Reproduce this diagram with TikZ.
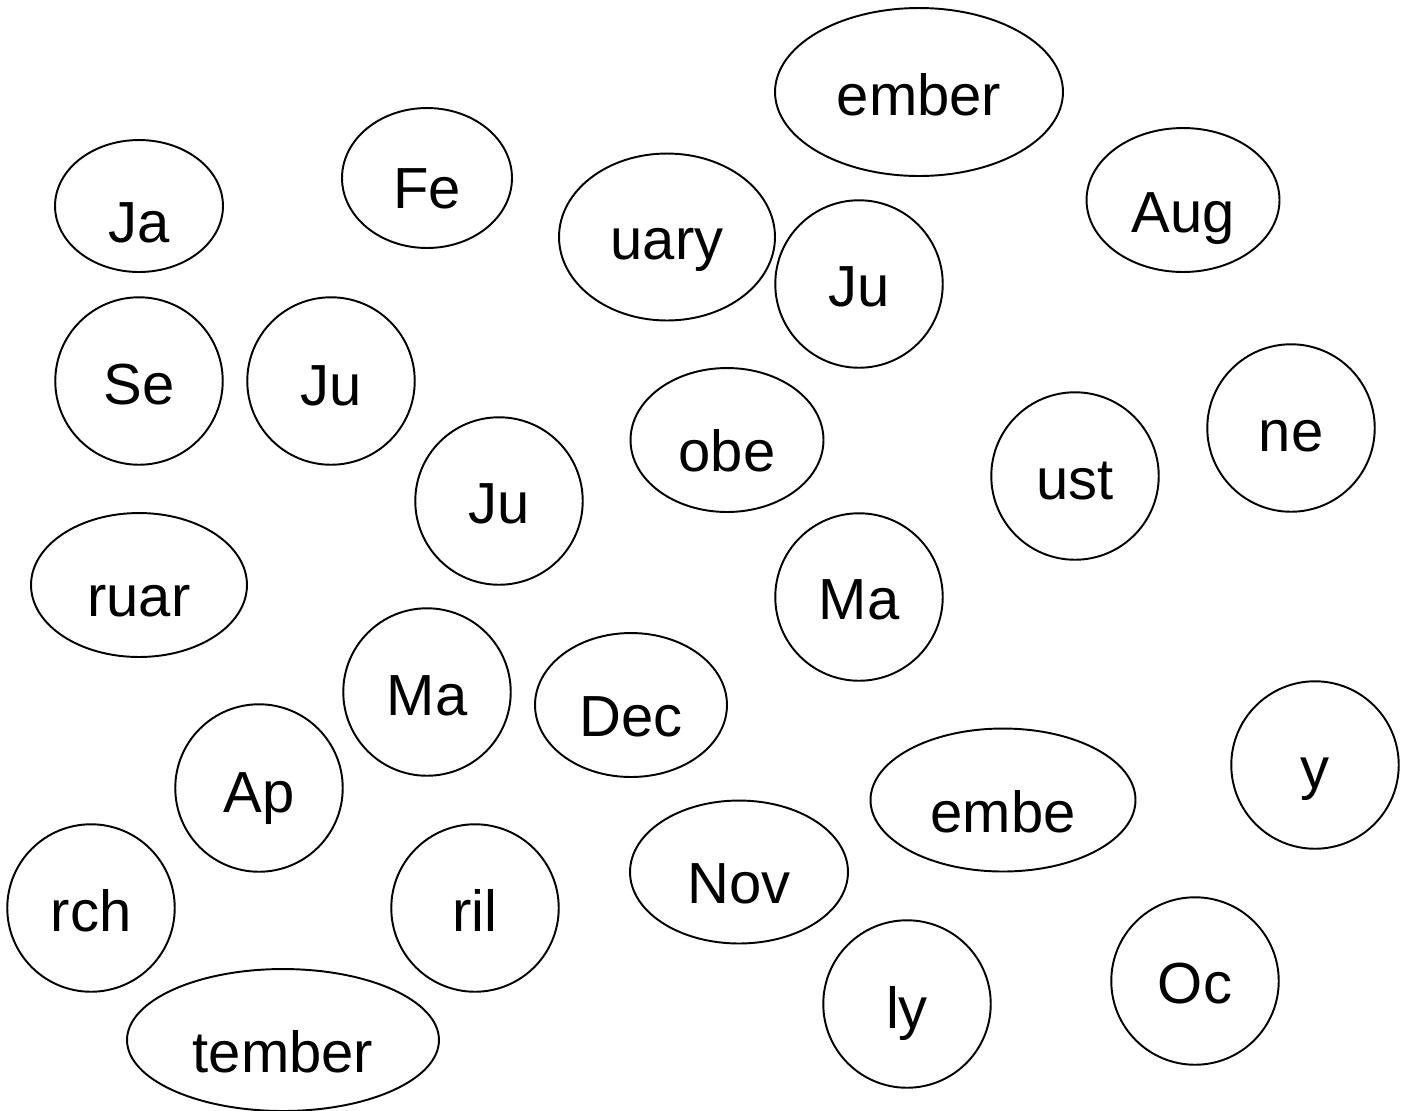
\documentclass[tikz,border=0pt]{standalone}
\usepackage{fontspec}
\newfontfamily\monthfont{Liberation Sans}
\usetikzlibrary{shapes}

\begin{document}
\begin{tikzpicture}[x=0.02cm, y=-0.02cm,
		blob/.style={ellipse, draw, line width=1.1pt, inner sep=0pt, minimum width=3.35cm, minimum height=3.35cm},
		piece/.style={anchor=base, inner sep=0pt, font=\monthfont\fontsize{33}{40}\selectfont}]
	\useasboundingbox (0,0) rectangle (1412,1110);
	% flat ones
	\node[blob, minimum width=3.36cm, minimum height=2.64cm] (Ja) at (139,206) {};
	\node[piece] (Ja-t) at (139,242) {Ja};
	\node[blob, minimum width=3.40cm, minimum height=2.80cm] (Fe) at (427,178) {};
	\node[piece] (Fe-t) at (427,208) {Fe};
	\node[blob, minimum width=5.76cm, minimum height=3.36cm] (ember) at (919,92) {};
	\node[piece] (ember-t) at (919,115) {ember};
	\node[blob, minimum width=4.32cm, minimum height=3.34cm] (uary) at (667,237) {};
	\node[piece] (uary-t) at (667,259) {uary};
	\node[blob, minimum width=3.86cm, minimum height=2.88cm] (Aug) at (1183,200) {};
	\node[piece] (Aug-t) at (1183,232) {Aug};
	\node[blob, minimum width=3.86cm, minimum height=2.88cm] (obe) at (727,440) {};
	\node[piece] (obe-t) at (727,471) {obe};
	\node[blob, minimum width=4.32cm, minimum height=2.88cm] (ruar) at (139,585) {};
	\node[piece] (ruar-t) at (139,616) {ruar};
	\node[blob, minimum width=3.84cm, minimum height=2.88cm] (Dec) at (631,705) {};
	\node[piece] (Dec-t) at (631,736) {Dec};
	\node[blob, minimum width=5.30cm, minimum height=2.86cm] (embe) at (1003,800) {};
	\node[piece] (embe-t) at (1003,832) {embe};
	\node[blob, minimum width=4.36cm, minimum height=2.86cm] (Nov) at (739,872) {};
	\node[piece] (Nov-t) at (739,903) {Nov};
	\node[blob, minimum width=6.24cm, minimum height=2.84cm] (tember) at (283,1040) {};
	\node[piece] (tember-t) at (283,1072) {tember};
	% round ones
	\node[blob] (Se) at (139,381) {};
	\node[piece] (Se-t) at (139,404) {Se};
	\node[blob] (Ju1) at (331,381) {};
	\node[piece] (Ju1-t) at (331,405) {Ju};
	\node[blob] (Ju2) at (859,284) {};
	\node[piece] (Ju2-t) at (859,306) {Ju};
	\node[blob] (Ju3) at (499,501) {};
	\node[piece] (Ju3-t) at (499,523) {Ju};
	\node[blob] (ust) at (1075,476) {};
	\node[piece] (ust-t) at (1075,499) {ust};
	\node[blob] (ne) at (1291,428) {};
	\node[piece] (ne-t) at (1291,451) {ne};
	\node[blob] (Ma1) at (859,597) {};
	\node[piece] (Ma1-t) at (859,619) {Ma};
	\node[blob] (Ma2) at (427,692) {};
	\node[piece] (Ma2-t) at (427,715) {Ma};
	\node[blob] (Ap) at (259,788) {};
	\node[piece] (Ap-t) at (259,812) {Ap};
	\node[blob] (y) at (1315,765) {};
	\node[piece] (y-t) at (1315,788) {y};
	\node[blob] (rch) at (91,908) {};
	\node[piece] (rch-t) at (91,931) {rch};
	\node[blob] (ril) at (475,908) {};
	\node[piece] (ril-t) at (475,931) {ril};
	\node[blob] (ly) at (907,1004) {};
	\node[piece] (ly-t) at (907,1028) {ly};
	\node[blob] (Oc) at (1195,981) {};
	\node[piece] (Oc-t) at (1195,1003) {Oc};
\end{tikzpicture}
\end{document}
